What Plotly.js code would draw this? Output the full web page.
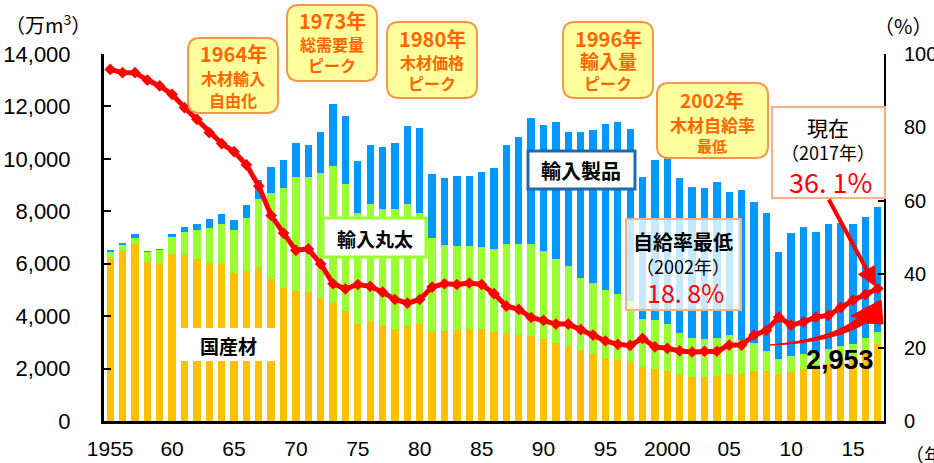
<!DOCTYPE html>
<html><head><meta charset="utf-8">
<script src="https://cdn.plot.ly/plotly-3.0.1.min.js"></script>
<style>html,body{margin:0;padding:0;background:#fff}#chart{width:934px;height:463px}</style>
</head><body><div id="chart"></div>
<script>
const years = [1955,1956,1957,1958,1959,1960,1961,1962,1963,1964,1965,1966,1967,1968,1969,1970,1971,1972,1973,1974,1975,1976,1977,1978,1979,1980,1981,1982,1983,1984,1985,1986,1987,1988,1989,1990,1991,1992,1993,1994,1995,1996,1997,1998,1999,2000,2001,2002,2003,2004,2005,2006,2007,2008,2009,2010,2011,2012,2013,2014,2015,2016,2017];
// 国産材 (万m3)
const domestic = [6230,6470,6740,6070,6000,6370,6330,6180,6030,5980,
  5660,5720,5860,5420,5090,4960,4930,4690,4500,4210,
  3700,3810,3670,3500,3620,3700,3390,3430,3460,3510,
  3520,3380,3300,3270,3240,3110,2960,2870,2700,2570,
  2390,2340,2260,2060,1980,1890,1750,1690,1690,1730,
  1790,1810,1920,1920,1790,1860,1990,2100,2170,2350,
  2470,2690,2953];
// 輸入丸太
const importedLogs = [200,240,250,360,510,660,890,1110,1330,1550,
  1640,2010,2610,3290,3810,4330,4380,4760,5230,4830,
  4250,4480,4420,4580,4670,4220,3580,3280,3230,3150,
  3120,3170,3450,3480,3520,3370,3210,3030,2760,2690,
  2600,2500,2300,1840,1890,1810,1600,1490,1450,1450,
  1480,1270,1040,760,590,620,580,510,570,520,
  460,490,447];
// 輸入製品
const importedProducts = [80,80,130,50,60,120,190,210,350,370,
  370,500,730,980,1070,1330,1230,1580,2350,2580,
  1950,2230,2360,2520,2950,3260,2460,2560,2650,2700,
  2860,3110,3790,4080,4810,4820,5220,5140,5550,5850,
  6350,6570,6590,5420,6070,6360,5920,5760,5740,5930,
  5460,5740,5410,5260,4080,4690,4840,4590,4790,4670,
  4570,4620,4750];
// 木材自給率 (%)
const selfRate = [95.8,94.9,94.9,92.9,91.3,89.0,85.4,82.2,78.6,75.6,
  73.4,69.8,64.0,56.0,51.2,46.5,46.9,42.8,37.4,36.0,
  37.2,36.7,35.1,33.1,32.1,33.1,36.5,37.4,37.2,37.6,
  37.2,34.7,31.3,30.4,28.2,27.4,26.4,26.4,24.9,23.4,
  21.8,20.9,20.6,22.5,20.2,19.8,19.1,18.8,19.0,19.0,
  20.7,20.7,23.4,24.7,28.3,26.1,27.0,28.3,28.8,30.9,
  32.9,34.5,36.1];
const xTickVals = [1955,1960,1965,1970,1975,1980,1985,1990,1995,2000,2005,2010,2015];
const xTickText = ['1955','60','65','70','75','80','85','90','95','2000','05','10','15'];
const yTickVals = [0,2000,4000,6000,8000,10000,12000,14000];
const y2TickVals = [0,20,40,60,80,100];

// pixel -> paper helpers (plot area 104..884 x 54..421)
const L=104,R=884,T=54,B=421;
const px = x => (x-L)/(R-L);
const py = y => (B-y)/(B-T);
function rr(x0,y0,x1,y1,r){
  const P=(x,y)=>px(x).toFixed(5)+','+py(y).toFixed(5);
  return 'M'+P(x0+r,y0)+' L'+P(x1-r,y0)+' Q'+P(x1,y0)+' '+P(x1,y0+r)+
    ' L'+P(x1,y1-r)+' Q'+P(x1,y1)+' '+P(x1-r,y1)+' L'+P(x0+r,y1)+
    ' Q'+P(x0,y1)+' '+P(x0,y1-r)+' L'+P(x0,y0+r)+' Q'+P(x0,y0)+' '+P(x0+r,y0)+' Z';
}
function pth(cmds){
  return cmds.map(c=>{const l=c[0];const pts=[];for(let i=1;i<c.length;i+=2)pts.push(px(c[i]).toFixed(5)+','+py(c[i+1]).toFixed(5));return l+pts.join(' ');}).join(' ')+' Z';
}

const JP = '"Noto Sans CJK JP", "Noto Sans", sans-serif';
const NUM = '"Liberation Sans", Arial, sans-serif';
const ORANGE_TXT = '#FF6600';
const BOX_FILL = '#FFFF9E';
const BOX_LINE = '#F79646';

const traces = [
  {type:'bar', x:years, y:domestic, name:'国産材', marker:{color:'#FFC000'}},
  {type:'bar', x:years, y:importedLogs, name:'輸入丸太', marker:{color:'#99FF33'}},
  {type:'bar', x:years, y:importedProducts, name:'輸入製品', marker:{color:'#0099FF'}},
  {type:'scatter', mode:'lines+markers', x:years, y:selfRate, yaxis:'y2', name:'自給率',
   line:{color:'#FF0000', width:5}, marker:{symbol:'diamond', size:9, color:'#FF0000'}}
];

const shapes = [
  {type:'path', path:rr(188,38,278,113,12), xref:'paper', yref:'paper', fillcolor:BOX_FILL, line:{color:BOX_LINE,width:2}, layer:'above'},
  {type:'path', path:rr(287,5,377,81,12), xref:'paper', yref:'paper', fillcolor:BOX_FILL, line:{color:BOX_LINE,width:2}, layer:'above'},
  {type:'path', path:rr(387,22,477,98,12), xref:'paper', yref:'paper', fillcolor:BOX_FILL, line:{color:BOX_LINE,width:2}, layer:'above'},
  {type:'path', path:rr(563,22,653,98,12), xref:'paper', yref:'paper', fillcolor:BOX_FILL, line:{color:BOX_LINE,width:2}, layer:'above'},
  {type:'path', path:rr(657,83,768,158,12), xref:'paper', yref:'paper', fillcolor:BOX_FILL, line:{color:BOX_LINE,width:2}, layer:'above'},
  {type:'rect', xref:'paper', yref:'paper', x0:px(178), x1:px(279), y0:py(361), y1:py(328), fillcolor:'#FFFFFF', line:{width:0}, layer:'above'},
  {type:'rect', xref:'paper', yref:'paper', x0:px(323), x1:px(426), y0:py(257), y1:py(218), fillcolor:'#FFFFFF', line:{color:'#99FF33',width:3}, layer:'above'},
  {type:'rect', xref:'paper', yref:'paper', x0:px(528), x1:px(635), y0:py(189), y1:py(151), fillcolor:'#FFFFFF', line:{color:'#1F6AAE',width:3}, layer:'above'},
  {type:'rect', xref:'paper', yref:'paper', x0:px(626), x1:px(741), y0:py(310), y1:py(219), fillcolor:'rgba(255,255,255,0.78)', line:{color:'#F4B183',width:2}, layer:'above'},
  {type:'rect', xref:'paper', yref:'paper', x0:px(772), x1:px(885), y0:py(198), y1:py(107), fillcolor:'#FFFFFF', line:{color:'#F4B183',width:2}, layer:'above'},
  {type:'path', xref:'paper', yref:'paper', layer:'above', fillcolor:'#FF0000', line:{color:'#FF0000',width:1},
   path:pth([['M',770,345],['Q',832,339,858,318],['L',851,316],['L',881,300],['L',883,324],['L',866,323],['Q',832,343,770,345]])}
];

function t(x,y,text,size,color,bold,family){
  return {xref:'paper', yref:'paper', x:px(x), y:py(y), text: bold?('<b>'+text+'</b>'):text, showarrow:false,
    xanchor:'center', yanchor:'middle', font:{size:size, color:color, family:family||JP}};
}
const annotations = [
  t(233,53,'1964年',20,ORANGE_TXT,true),
  t(233,78,'木材輸入',16,ORANGE_TXT,true),
  t(233,100,'自由化',16,ORANGE_TXT,true),
  t(332,21,'1973年',20,ORANGE_TXT,true),
  t(332,44,'総需要量',16,ORANGE_TXT,true),
  t(332,65,'ピーク',16,ORANGE_TXT,true),
  t(432,39,'1980年',20,ORANGE_TXT,true),
  t(432,62,'木材価格',16,ORANGE_TXT,true),
  t(432,83,'ピーク',16,ORANGE_TXT,true),
  t(608,39,'1996年',20,ORANGE_TXT,true),
  t(608,61,'輸入量',19,ORANGE_TXT,true),
  t(608,83,'ピーク',16,ORANGE_TXT,true),
  t(712,100,'2002年',19,ORANGE_TXT,true),
  t(712,124,'木材自給率',17,ORANGE_TXT,true),
  t(712,145,'最低',15,ORANGE_TXT,true),
  t(228,345,'国産材',19,'#000',true),
  t(375,238,'輸入丸太',19,'#000',true),
  t(581,170,'輸入製品',20,'#000',true),
  t(683,241,'自給率最低',20,'#000',true),
  t(683,266,'（2002年）',18,'#000',false),
  t(685,292,'18. 8%',25,'#FF0000',false),
  t(828,127,'現在',21,'#000',false),
  t(828,152,'（2017年）',18,'#000',false),
  t(830,181,'36. 1%',27,'#FF0000',false),
  t(840,360,'2,953',27,'#000',true,NUM),
  t(48,24,'（万m<sup>3</sup>）',20,'#000',false),
  t(903,26,'（%）',20,'#000',false),
  {xref:'paper', yref:'paper', x:px(903), y:py(454), text:'（年）', showarrow:false, xanchor:'left', yanchor:'middle', font:{size:19,color:'#000',family:JP}},
  {xref:'paper', yref:'paper', x:px(876), y:py(287), ax:-48, ay:-89, text:'', showarrow:true, arrowhead:2, arrowsize:1, arrowwidth:4, arrowcolor:'#FF0000', standoff:0}
];

const layout = {
  width:934, height:463,
  margin:{l:104, r:50, t:54, b:42, pad:0},
  paper_bgcolor:'#fff', plot_bgcolor:'#fff',
  barmode:'stack', bargap:0.41,
  showlegend:false,
  font:{family:NUM, color:'#000'},
  xaxis:{range:[1954.5,2017.5], tickvals:xTickVals, ticktext:xTickText, showgrid:false, zeroline:false,
    showline:true, linecolor:'#000', linewidth:3, ticks:'', tickfont:{size:21, family:NUM, color:'#000'}, ticklabelstandoff:7},
  yaxis:{range:[0,14000], tickvals:yTickVals, tickformat:',d', showgrid:false, zeroline:false,
    showline:true, linecolor:'#000', linewidth:3, ticks:'inside', ticklen:7, tickwidth:2, tickcolor:'#000',
    tickfont:{size:22, family:NUM, color:'#000'}, ticklabelstandoff:26},
  yaxis2:{range:[0,100], tickvals:y2TickVals, overlaying:'y', side:'right', showgrid:false, zeroline:false,
    showline:true, linecolor:'#000', linewidth:2, ticks:'inside', ticklen:6, tickwidth:2, tickcolor:'#000',
    tickfont:{size:20, family:NUM, color:'#000'}, ticklabelstandoff:14},
  shapes:shapes,
  annotations:annotations
};
Plotly.newPlot('chart', traces, layout, {displayModeBar:false, staticPlot:true});
</script></body></html>
